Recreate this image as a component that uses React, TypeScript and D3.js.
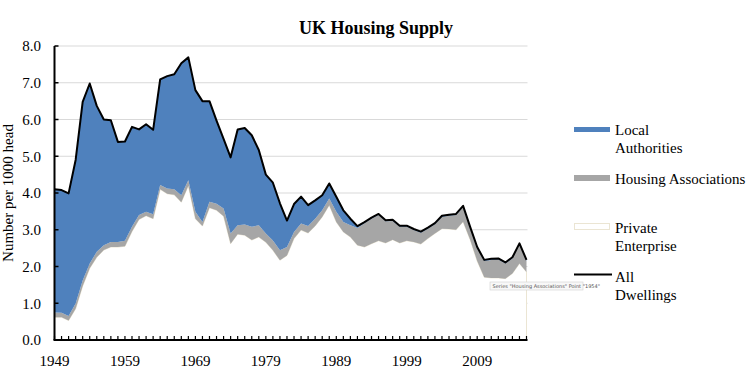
import * as d3 from "d3";

// one value per year, 1949 to 2016 (dwellings per 1000 head)
const YEARS = d3.range(1949, 2017);

const PRIVATE_ENTERPRISE = [
  0.62, 0.62, 0.53, 0.85, 1.47, 1.95, 2.25, 2.45, 2.53, 2.53,
  2.55, 2.95, 3.28, 3.38, 3.3, 4.1, 3.98, 3.95, 3.75, 4.2,
  3.3, 3.1, 3.6, 3.53, 3.37, 2.62, 2.88, 2.85, 2.72, 2.8,
  2.66, 2.44, 2.17, 2.3, 2.76, 2.99, 2.91, 3.1, 3.35, 3.67,
  3.21, 2.94, 2.8, 2.58, 2.53, 2.62, 2.7, 2.64, 2.73, 2.64,
  2.7, 2.67, 2.61, 2.76, 2.9, 3.03, 3.02, 3.0, 3.22, 2.73,
  2.15, 1.71, 1.69, 1.69, 1.67, 1.81, 2.08, 1.85,
];

const HOUSING_ASSOCIATIONS = [
  0.13, 0.12, 0.12, 0.14, 0.15, 0.13, 0.15, 0.13, 0.14, 0.14,
  0.15, 0.13, 0.12, 0.11, 0.12, 0.12, 0.14, 0.15, 0.19, 0.15,
  0.19, 0.11, 0.16, 0.18, 0.21, 0.28, 0.24, 0.29, 0.36, 0.32,
  0.24, 0.27, 0.27, 0.23, 0.18, 0.18, 0.19, 0.2, 0.18, 0.18,
  0.28, 0.27, 0.32, 0.47, 0.65, 0.68, 0.7, 0.59, 0.51, 0.44,
  0.38, 0.32, 0.31, 0.27, 0.25, 0.32, 0.36, 0.4, 0.4, 0.32,
  0.35, 0.44, 0.49, 0.5, 0.41, 0.41, 0.52, 0.3,
];

const LOCAL_AUTHORITIES = [
  3.35, 3.34, 3.34, 3.91, 4.86, 4.9, 3.97, 3.42, 3.31, 2.72,
  2.7, 2.72, 2.33, 2.38, 2.3, 2.87, 3.06, 3.13, 3.59, 3.34,
  3.31, 3.29, 2.74, 2.26, 1.89, 2.07, 2.61, 2.63, 2.49, 2.05,
  1.6, 1.57, 1.28, 0.72, 0.76, 0.73, 0.57, 0.5, 0.41, 0.41,
  0.41, 0.32, 0.18, 0.05, 0.03, 0.03, 0.03, 0.03, 0.03, 0.03,
  0.03, 0.03, 0.03, 0.03, 0.03, 0.03, 0.03, 0.03, 0.03, 0.03,
  0.03, 0.03, 0.03, 0.03, 0.03, 0.03, 0.03, 0.03,
];

const Y_TICKS = [0, 1, 2, 3, 4, 5, 6, 7, 8];
const X_LABELS = [1949, 1959, 1969, 1979, 1989, 1999, 2009];

const BLUE = "#4f81bd";
const GRAY = "#a6a6a6";
const PE_FILL = "#ffffff";
const PE_EDGE = "#ebe5d3";
const FONT = "'Liberation Serif', 'Times New Roman', serif";

type Row = { year: number; pe: number; ha: number; la: number };

export default function App() {
  const width = 750;
  const height = 384;

  const x = d3.scaleLinear().domain([1949, 2016]).range([54.5, 526.5]);
  const y = d3.scaleLinear().domain([0, 8]).range([340, 46]);

  const rows: Row[] = YEARS.map((year, i) => ({
    year,
    pe: PRIVATE_ENTERPRISE[i],
    ha: HOUSING_ASSOCIATIONS[i],
    la: LOCAL_AUTHORITIES[i],
  }));

  const series = d3.stack<Row>().keys(["pe", "ha", "la"])(rows);

  const area = d3
    .area<d3.SeriesPoint<Row>>()
    .x((d) => x(d.data.year))
    .y0((d) => y(d[0]))
    .y1((d) => y(d[1]));

  const totalLine = d3
    .line<Row>()
    .x((d) => x(d.year))
    .y((d) => y(d.pe + d.ha + d.la));

  const fills = [PE_FILL, GRAY, BLUE];
  const [x0, x1] = x.range();

  return (
    <div style={{ position: "absolute", left: 0, top: 0 }}>
      <svg width={width} height={height} style={{ display: "block", background: "#fff" }} fontFamily={FONT}>
        <text x={376} y={34} textAnchor="middle" fontSize={18} fontWeight="bold">
          UK Housing Supply
        </text>

        {/* gridlines */}
        {Y_TICKS.filter((t) => t > 0).map((t) => (
          <line key={t} x1={x0} x2={x1 + 1} y1={y(t)} y2={y(t)} stroke="#d9d9d9" strokeWidth={1} />
        ))}

        {/* stacked areas */}
        {series.map((s, i) => (
          <path
            key={s.key}
            d={area(s) ?? ""}
            fill={fills[i]}
            stroke={i === 0 ? PE_EDGE : "none"}
            strokeWidth={1}
          />
        ))}

        <path d={totalLine(rows) ?? ""} fill="none" stroke="#000" strokeWidth={2} strokeLinejoin="round" />

        {/* axes */}
        <line x1={x0} x2={x0} y1={y(8)} y2={y(0)} stroke="#000" strokeWidth={2} />
        <line x1={x0 - 1} x2={x1 + 1} y1={y(0)} y2={y(0)} stroke="#000" strokeWidth={2} />
        {Y_TICKS.map((t) => (
          <g key={t}>
            <line x1={x0} x2={x0 + 4} y1={y(t)} y2={y(t)} stroke="#000" strokeWidth={1.5} />
            <text x={41} y={y(t)} dy="0.35em" textAnchor="end" fontSize={15}>
              {t.toFixed(1)}
            </text>
          </g>
        ))}
        {YEARS.map((yr) => (
          <line key={yr} x1={x(yr)} x2={x(yr)} y1={y(0)} y2={y(0) - 4} stroke="#000" strokeWidth={1.2} />
        ))}
        {X_LABELS.map((yr) => (
          <text key={yr} x={x(yr)} y={366} textAnchor="middle" fontSize={15}>
            {yr}
          </text>
        ))}

        <text transform="translate(12.5,193) rotate(-90)" textAnchor="middle" fontSize={15}>
          Number per 1000 head
        </text>

        {/* hover tooltip left in the screenshot */}
        <rect x={490} y={282} width={93} height={8} fill="#f8f8f8" stroke="#cfcfcf" strokeWidth={0.6} />
        <text x={492.5} y={288} fontSize={5} fill="#555" fontFamily="'DejaVu Sans', sans-serif">
          Series "Housing Associations" Point "1954"
        </text>

        {/* legend */}
        <rect x={574} y={127} width={36} height={5} fill={BLUE} />
        <text x={615} y={135} fontSize={15}>Local</text>
        <text x={615} y={153} fontSize={15}>Authorities</text>

        <rect x={574} y={175} width={36} height={6} fill={GRAY} />
        <text x={615} y={184} fontSize={15}>Housing Associations</text>

        <rect x={574.5} y={223.5} width={35} height={6} fill={PE_FILL} stroke={PE_EDGE} />
        <text x={615} y={233} fontSize={15}>Private</text>
        <text x={615} y={251} fontSize={15}>Enterprise</text>

        <line x1={574} x2={612} y1={274.5} y2={274.5} stroke="#000" strokeWidth={2} />
        <text x={615} y={282} fontSize={15}>All</text>
        <text x={615} y={300} fontSize={15}>Dwellings</text>
      </svg>
    </div>
  );
}
